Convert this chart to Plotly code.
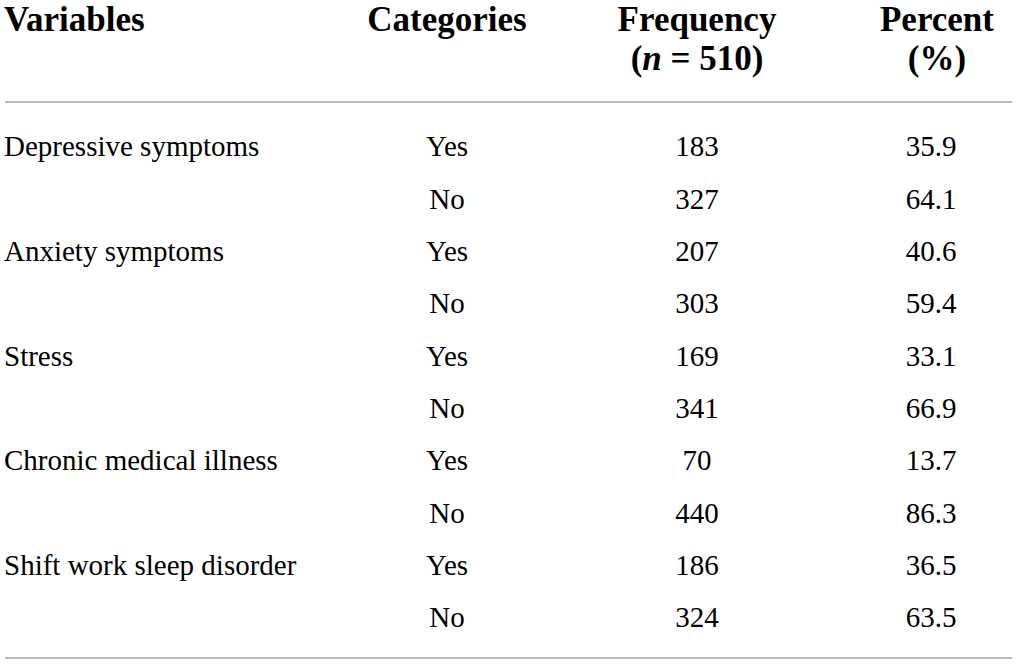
import plotly.graph_objects as go

# Table content
variables = ["Depressive symptoms", "", "Anxiety symptoms", "", "Stress", "",
             "Chronic medical illness", "", "Shift work sleep disorder", ""]
categories = ["Yes", "No"] * 5
frequency = [183, 327, 207, 303, 169, 341, 70, 440, 186, 324]
percent = [35.9, 64.1, 40.6, 59.4, 33.1, 66.9, 13.7, 86.3, 36.5, 63.5]

headers = ["Variables", "Categories", "Frequency", "Percent"]
sub_headers = ["", "", "(<i>n</i> = 510)", "(%)"]

# layout of the columns (pixel-like x axis, row-index y axis)
col_x = [4, 447, 697, 931]
head_x = [4, 447, 697, 937]
col_pos = ["middle right", "middle center", "middle center", "middle center"]
head_rows = [-2.427, -1.682]

serif = "Liberation Serif"
rows = list(range(len(categories)))
columns = [variables, categories, [str(f) for f in frequency], [f"{p:.1f}" for p in percent]]

fig = go.Figure()

for i, col in enumerate(columns):
    fig.add_trace(go.Scatter(
        x=[col_x[i]] * len(col),
        y=rows,
        mode="text",
        text=col,
        textposition=col_pos[i],
        textfont=dict(family=serif, size=29, color="black"),
        hoverinfo="skip",
        showlegend=False,
        cliponaxis=False,
    ))

for hy, labels in zip(head_rows, [headers, sub_headers]):
    fig.add_trace(go.Scatter(
        x=head_x,
        y=[hy] * len(labels),
        mode="text",
        text=labels,
        textposition=col_pos,
        textfont=dict(family=serif, size=35, color="black", weight="bold"),
        hoverinfo="skip",
        showlegend=False,
        cliponaxis=False,
    ))

# horizontal rules (under the header and at the bottom)
for y in [1 - 102 / 664, 1 - 658 / 664]:
    fig.add_shape(type="line", xref="paper", yref="paper",
                  x0=5 / 1017, x1=1012 / 1017, y0=y, y1=y,
                  line=dict(color="#a6a6a6", width=1.5))

fig.update_xaxes(range=[0, 1017], visible=False, fixedrange=True)
fig.update_yaxes(range=[9.841, -2.847], visible=False, fixedrange=True)

fig.update_layout(
    width=1017,
    height=664,
    margin=dict(l=0, r=0, t=0, b=0),
    paper_bgcolor="white",
    plot_bgcolor="white",
)

fig.write_html("out.html", config={"displayModeBar": False},
               post_script="document.body.style.margin = '0';")
